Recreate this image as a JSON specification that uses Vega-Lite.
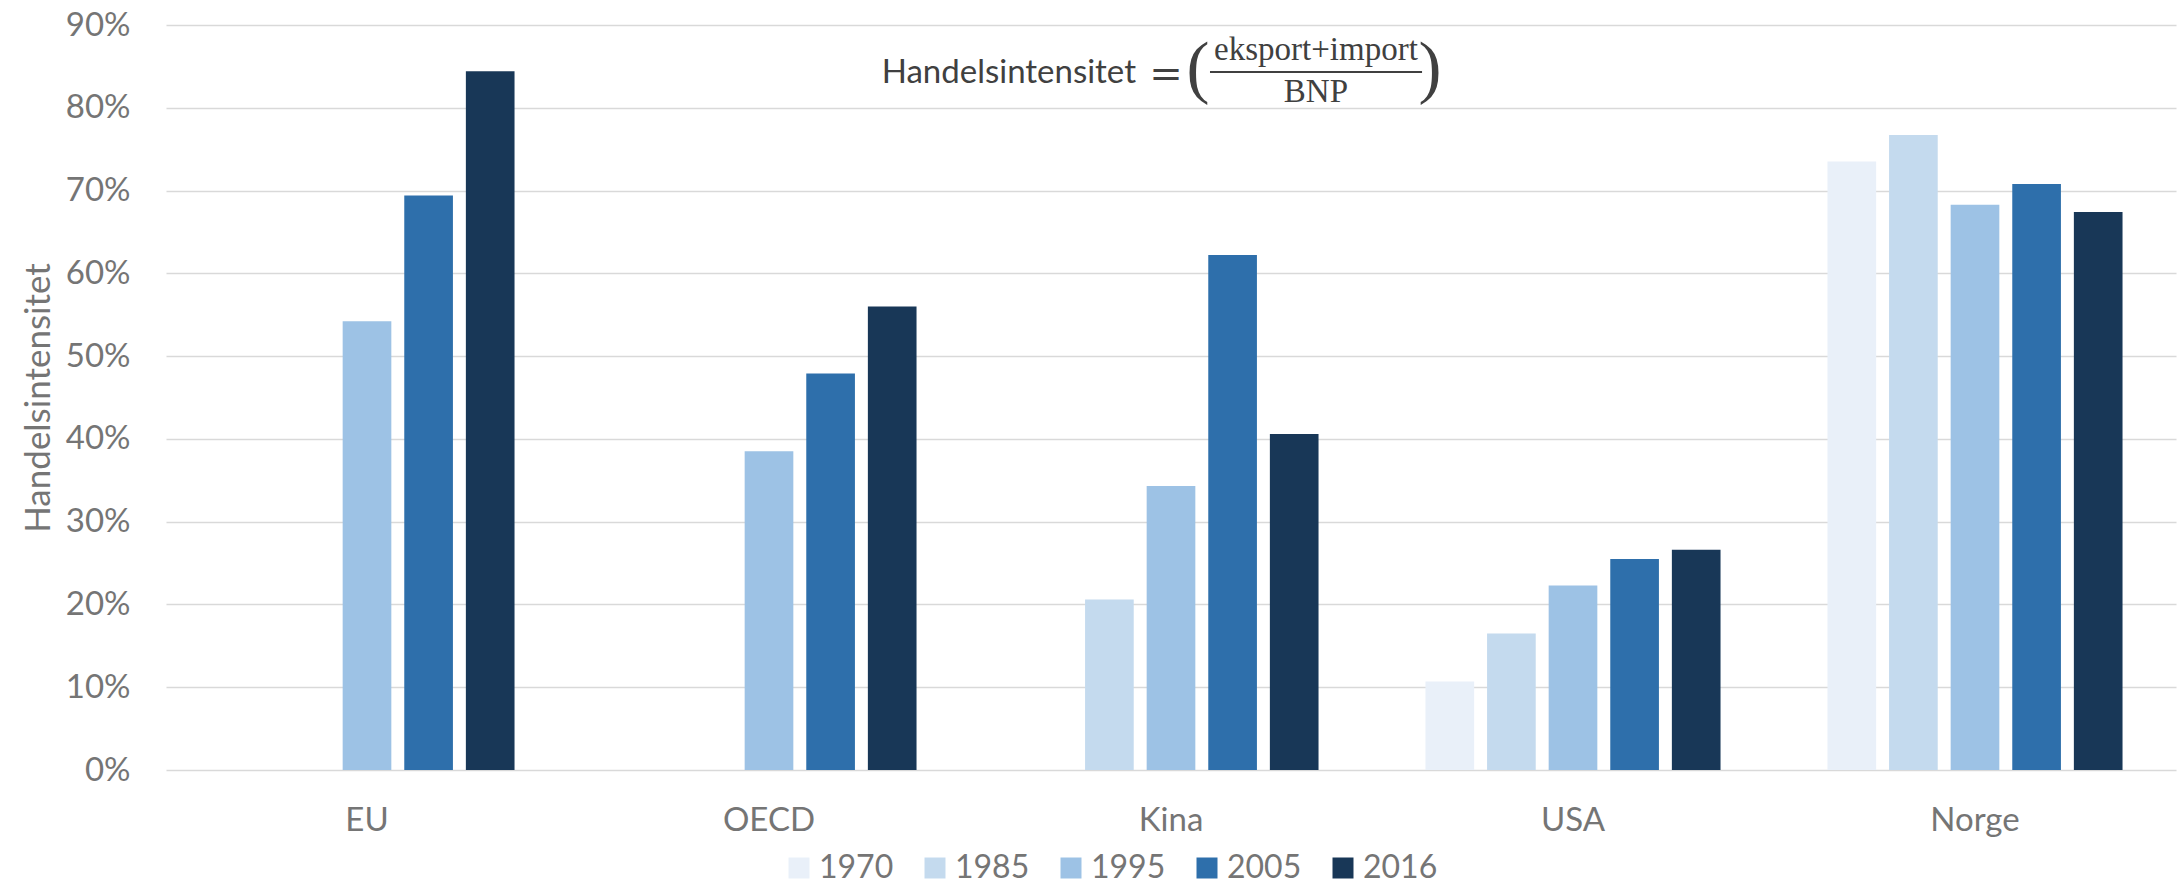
{
  "$schema": "https://vega.github.io/schema/vega-lite/v6.json",
  "width": 2010,
  "height": 745,
  "autosize": {"type": "none"},
  "padding": {"left": 166, "top": 25, "right": 5, "bottom": 116},
  "background": "white",
  "config": {"view": {"stroke": null}, "font": "Lato"},
  "datasets": {
    "trade": [
      {"region": "EU", "year": "1995", "value": 0.542},
      {"region": "EU", "year": "2005", "value": 0.694},
      {"region": "EU", "year": "2016", "value": 0.844},
      {"region": "OECD", "year": "1995", "value": 0.385},
      {"region": "OECD", "year": "2005", "value": 0.479},
      {"region": "OECD", "year": "2016", "value": 0.560},
      {"region": "Kina", "year": "1985", "value": 0.206},
      {"region": "Kina", "year": "1995", "value": 0.343},
      {"region": "Kina", "year": "2005", "value": 0.622},
      {"region": "Kina", "year": "2016", "value": 0.406},
      {"region": "USA", "year": "1970", "value": 0.107},
      {"region": "USA", "year": "1985", "value": 0.165},
      {"region": "USA", "year": "1995", "value": 0.223},
      {"region": "USA", "year": "2005", "value": 0.255},
      {"region": "USA", "year": "2016", "value": 0.266},
      {"region": "Norge", "year": "1970", "value": 0.735},
      {"region": "Norge", "year": "1985", "value": 0.767},
      {"region": "Norge", "year": "1995", "value": 0.683},
      {"region": "Norge", "year": "2005", "value": 0.708},
      {"region": "Norge", "year": "2016", "value": 0.674}
    ]
  },
  "layer": [
    {
      "data": {"name": "trade"},
      "mark": {"type": "bar"},
      "encoding": {
        "x": {
          "field": "region", "type": "nominal",
          "sort": ["EU", "OECD", "Kina", "USA", "Norge"],
          "scale": {"paddingInner": 0.266, "paddingOuter": 0.133},
          "axis": {"title": null, "labelAngle": 0, "ticks": false, "tickSize": 0, "domain": false, "grid": false,
                   "labelPadding": 34, "labelFont": "Lato", "labelFontSize": 33, "labelColor": "#757575"}
        },
        "xOffset": {
          "field": "year", "type": "nominal",
          "sort": ["1970", "1985", "1995", "2005", "2016"],
          "scale": {"domain": ["1970", "1985", "1995", "2005", "2016"], "paddingInner": 0.21, "paddingOuter": 0}
        },
        "y": {
          "field": "value", "type": "quantitative",
          "scale": {"domain": [0, 0.9], "nice": false},
          "axis": {
            "title": "Handelsintensitet", "format": ".0%",
            "values": [0, 0.1, 0.2, 0.3, 0.4, 0.5, 0.6, 0.7, 0.8, 0.9],
            "ticks": false, "tickSize": 0, "domain": false, "grid": true,
            "gridColor": "#d9d9d9", "gridWidth": 1.5,
            "labelPadding": 36, "labelFont": "Lato", "labelFontSize": 33, "labelColor": "#757575",
            "titleFont": "Lato", "titleFontSize": 35, "titleColor": "#757575", "titleFontWeight": "normal", "titlePadding": 9
          }
        },
        "color": {
          "field": "year", "type": "nominal",
          "scale": {"domain": ["1970", "1985", "1995", "2005", "2016"],
                    "range": ["#e9f0f9", "#c4daee", "#9dc2e5", "#2e6fab", "#183757"]},
          "legend": {
            "orient": "none", "legendX": 617, "legendY": 827, "direction": "horizontal", "title": null,
            "symbolType": "square", "symbolSize": 441, "symbolStrokeWidth": 0, "symbolOpacity": 1,
            "labelFont": "Lato", "labelFontSize": 32, "labelColor": "#757575", "labelOffset": 4,
            "columnPadding": 25, "padding": 0
          }
        }
      }
    },
    {
      "data": {"values": [{}]},
      "mark": {"type": "text", "text": "Handelsintensitet", "align": "right", "baseline": "alphabetic",
               "font": "Lato", "fontSize": 33, "color": "#404040"},
      "encoding": {
        "x": {"datum": 0.4826, "type": "quantitative", "scale": {"domain": [0, 1]}, "axis": null},
        "y": {"datum": 0.8299, "type": "quantitative"}
      }
    },
    {
      "data": {"values": [{}]},
      "mark": {"type": "text", "text": "=", "align": "center", "baseline": "alphabetic",
               "font": "DejaVu Serif", "fontSize": 40, "color": "#404040"},
      "encoding": {
        "x": {"datum": 0.4975, "type": "quantitative", "scale": {"domain": [0, 1]}, "axis": null},
        "y": {"datum": 0.8251, "type": "quantitative"}
      }
    },
    {
      "data": {"values": [{}]},
      "mark": {"type": "text", "text": "(", "align": "center", "baseline": "alphabetic",
               "font": "Liberation Serif", "fontSize": 69, "color": "#404040"},
      "encoding": {
        "x": {"datum": 0.5134, "type": "quantitative", "scale": {"domain": [0, 1]}, "axis": null},
        "y": {"datum": 0.822, "type": "quantitative"}
      }
    },
    {
      "data": {"values": [{}]},
      "mark": {"type": "text", "text": ")", "align": "center", "baseline": "alphabetic",
               "font": "Liberation Serif", "fontSize": 69, "color": "#404040"},
      "encoding": {
        "x": {"datum": 0.6289, "type": "quantitative", "scale": {"domain": [0, 1]}, "axis": null},
        "y": {"datum": 0.822, "type": "quantitative"}
      }
    },
    {
      "data": {"values": [{}]},
      "mark": {"type": "text", "text": "eksport+import", "align": "center", "baseline": "alphabetic",
               "font": "Liberation Serif", "fontSize": 33, "color": "#404040"},
      "encoding": {
        "x": {"datum": 0.5721, "type": "quantitative", "scale": {"domain": [0, 1]}, "axis": null},
        "y": {"datum": 0.8577, "type": "quantitative"}
      }
    },
    {
      "data": {"values": [{}]},
      "mark": {"type": "text", "text": "BNP", "align": "center", "baseline": "alphabetic",
               "font": "Liberation Serif", "fontSize": 33, "color": "#404040"},
      "encoding": {
        "x": {"datum": 0.5721, "type": "quantitative", "scale": {"domain": [0, 1]}, "axis": null},
        "y": {"datum": 0.807, "type": "quantitative"}
      }
    },
    {
      "data": {"values": [{}]},
      "mark": {"type": "rule", "color": "#404040", "strokeWidth": 2},
      "encoding": {
        "x": {"datum": 0.5194, "type": "quantitative", "scale": {"domain": [0, 1]}, "axis": null},
        "x2": {"datum": 0.6249},
        "y": {"datum": 0.8432, "type": "quantitative"}
      }
    }
  ],
  "resolve": {"scale": {"x": "independent"}}
}
